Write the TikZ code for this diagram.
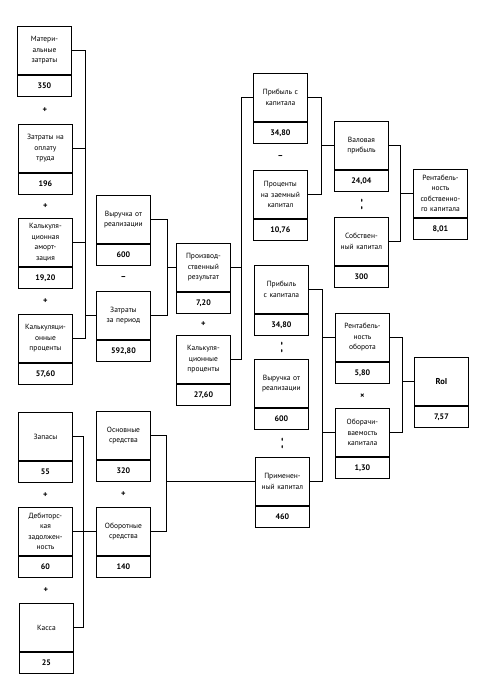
\documentclass[tikz,border=0pt]{standalone}
\usepackage{fontspec}
\setmainfont{PT Sans}
\usetikzlibrary{positioning,calc}
\tikzset{
  lbl/.style={draw, line width=0.9pt, text width=50pt, inner sep=2pt, minimum height=48pt, align=center, anchor=north west, font=\fontsize{7.5}{10.5}\selectfont},
  val/.style={draw, line width=0.9pt, text width=50pt, inner sep=2pt, minimum height=21pt, align=center, font=\fontsize{8}{9}\selectfont\bfseries},
  op/.style={font=\fontsize{8.5}{9}\selectfont\bfseries},
  link/.style={line width=0.9pt}
}
\newcommand{\divop}{\scalebox{1}[2.4]{:}}

\begin{document}
\begin{tikzpicture}[x=1pt, y=-1pt]
  \useasboundingbox (0,0) rectangle (487,680);

  % costs
  \node[lbl] (mat) at (17,26) {Матери-\\альные\\затраты};
  \node[val, below=0pt of mat] (matv) {350};
  \node[lbl] (trud) at (18,124) {Затраты на\\оплату\\труда};
  \node[val, below=0pt of trud] (trudv) {196};
  \node[lbl] (amort) at (18,218) {Калькуля-\\ционная\\аморт-\\зация};
  \node[val, below=0pt of amort] (amortv) {19,20};
  \node[lbl] (kproc) at (18,314) {Калькуляци-\\онные\\проценты};
  \node[val, below=0pt of kproc] (kprocv) {57,60};

  \node[lbl] (vyr) at (96,195) {Выручка от\\реализации};
  \node[val, below=0pt of vyr] (vyrv) {600};
  \node[lbl] (zatr) at (96,291) {Затраты\\за период};
  \node[val, below=0pt of zatr] (zatrv) {592,80};

  \node[lbl] (proizv) at (176,243) {Производ-\\ственный\\результат};
  \node[val, below=0pt of proizv] (proizvv) {7,20};
  \node[lbl] (kproc2) at (176,335) {Калькуля-\\ционные\\проценты};
  \node[val, below=0pt of kproc2] (kproc2v) {27,60};

  % return on equity
  \node[lbl] (prib) at (253,73) {Прибыль с\\капитала};
  \node[val, below=0pt of prib] (pribv) {34,80};
  \node[lbl] (zaem) at (253,170) {Проценты\\на заемный\\капитал};
  \node[val, below=0pt of zaem] (zaemv) {10,76};
  \node[lbl] (valp) at (334,121) {Валовая\\прибыль};
  \node[val, below=0pt of valp] (valpv) {24,04};
  \node[lbl] (sobst) at (334,217) {Собствен-\\ный капитал};
  \node[val, below=0pt of sobst] (sobstv) {300};
  \node[lbl] (rsk) at (413,169) {Рентабель-\\ность\\собственно-\\го капитала};
  \node[val, below=0pt of rsk] (rskv) {8,01};

  % return on investment
  \node[lbl] (prib2) at (254,265) {Прибыль\\с капитала};
  \node[val, below=0pt of prib2] (prib2v) {34,80};
  \node[lbl] (vyr2) at (254,359) {Выручка от\\реализации};
  \node[val, below=0pt of vyr2] (vyr2v) {600};
  \node[lbl] (primen) at (255,457) {Применен-\\ный капитал};
  \node[val, below=0pt of primen] (primenv) {460};
  \node[lbl] (rob) at (335,313) {Рентабель-\\ность\\оборота};
  \node[val, below=0pt of rob] (robv) {5,80};
  \node[lbl] (obor) at (335,408) {Оборачи-\\ваемость\\капитала};
  \node[val, below=0pt of obor] (oborv) {1,30};
  \node[lbl, font=\fontsize{8.5}{10}\selectfont\bfseries] (roi) at (414,357) {RoI};
  \node[val, below=0pt of roi] (roiv) {7,57};

  % capital
  \node[lbl] (zap) at (18,412) {Запасы};
  \node[val, below=0pt of zap] (zapv) {55};
  \node[lbl] (deb) at (18,507) {Дебиторс-\\кая\\задолжен-\\ность};
  \node[val, below=0pt of deb] (debv) {60};
  \node[lbl] (kassa) at (19,603) {Касса};
  \node[val, below=0pt of kassa] (kassav) {25};
  \node[lbl] (osn) at (96,411) {Основные\\средства};
  \node[val, below=0pt of osn] (osnv) {320};
  \node[lbl] (obs) at (96,507) {Оборотные\\средства};
  \node[val, below=0pt of obs] (obsv) {140};

  % operators
  \node[op] at ($(matv.south)!0.5!(trud.north)$) {+};
  \node[op] at ($(trudv.south)!0.5!(amort.north)$) {+};
  \node[op] at ($(amortv.south)!0.5!(kproc.north)$) {+};
  \node[op] at ($(vyrv.south)!0.5!(zatr.north)$) {–};
  \node[op] at ($(proizvv.south)!0.5!(kproc2.north)$) {+};
  \node[op] at ($(pribv.south)!0.5!(zaem.north)$) {–};
  \node[op] at ($(valpv.south)!0.5!(sobst.north)$) {\divop};
  \node[op] at ($(prib2v.south)!0.5!(vyr2.north)$) {\divop};
  \node[op] at ($(vyr2v.south)!0.5!(primen.north)$) {\divop};
  \node[op] at ($(robv.south)!0.5!(obor.north)$) {×};
  \node[op] at ($(zapv.south)!0.5!(deb.north)$) {+};
  \node[op] at ($(debv.south)!0.5!(kassa.north)$) {+};
  \node[op] at ($(osnv.south)!0.5!(obs.north)$) {+};

  % junction lines
  \coordinate (j1) at (85,0);
  \coordinate (j2) at (167,0);
  \coordinate (j3) at (241,0);
  \coordinate (j4) at (321,0);
  \coordinate (j5) at (400,0);
  \coordinate (j6) at (322,0);
  \coordinate (j7) at (402,0);
  \coordinate (j8) at (83,0);
  \coordinate (j9) at (166,0);

  \draw[link] (mat.east) -- (mat.east -| j1) -- (kproc.east -| j1) -- (kproc.east);
  \draw[link] (trud.east) -- (trud.east -| j1);
  \draw[link] (amort.east) -- (amort.east -| j1);
  \draw[link] (zatr.west -| j1) -- (zatr.west);

  \draw[link] (vyr.east) -- (vyr.east -| j2) -- (zatr.east -| j2) -- (zatr.east);
  \draw[link] (proizv.west -| j2) -- (proizv.west);

  \draw[link] (prib.west) -- (prib.west -| j3) -- (kproc2.east -| j3) -- (kproc2.east);
  \draw[link] (proizv.east) -- (proizv.east -| j3);

  \draw[link] (prib.east) -- (prib.east -| j4) -- (zaem.east -| j4) -- (zaem.east);
  \draw[link] (valp.west -| j4) -- (valp.west);

  \draw[link] (valp.east) -- (valp.east -| j5) -- (sobst.east -| j5) -- (sobst.east);
  \draw[link] (rsk.west -| j5) -- (rsk.west);

  \draw[link] (prib2.east) -- (prib2.east -| j6) -- (primen.east -| j6) -- (primen.east);
  \draw[link] (rob.west -| j6) -- (rob.west);
  \draw[link] (obor.west -| j6) -- (obor.west);

  \draw[link] (rob.east) -- (rob.east -| j7) -- (obor.east -| j7) -- (obor.east);
  \draw[link] (roi.west -| j7) -- (roi.west);

  \draw[link] (zap.east) -- (zap.east -| j8) -- (kassa.east -| j8) -- (kassa.east);
  \draw[link] (deb.east) -- (obs.west);

  \draw[link] (osn.east) -- (osn.east -| j9) -- (obs.east -| j9) -- (obs.east);
  \draw[link] (primen.west -| j9) -- (primen.west);
\end{tikzpicture}
\end{document}
